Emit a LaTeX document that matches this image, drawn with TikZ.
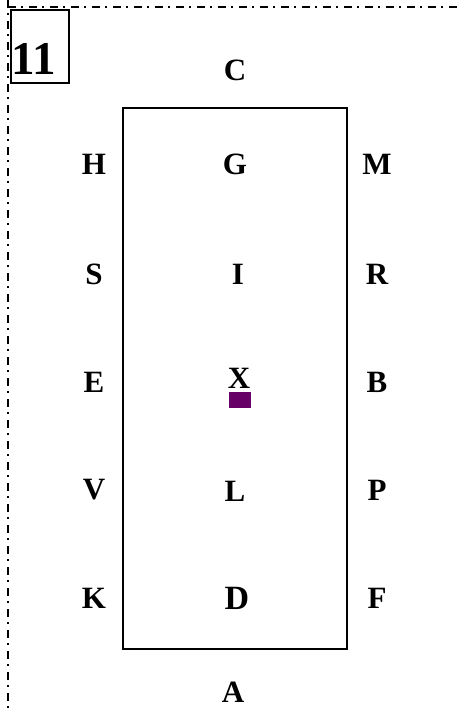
\documentclass[tikz,border=0pt]{standalone}
\usepackage{fontspec}
\setmainfont{Liberation Serif}
\definecolor{markpurple}{HTML}{660066}
\begin{document}
\begin{tikzpicture}[x=1pt,y=-1pt,
  lbl/.style={inner sep=0pt,font=\fontsize{31}{31}\selectfont\bfseries},
  dashdot/.style={line width=2.6pt,dash pattern=on 8pt off 5pt on 2pt off 6pt}]
\useasboundingbox (0,0) rectangle (462,708);
\draw[dashdot] (8,0) -- (8,708);
\draw[dashdot] (8,7) -- (462,7);
\node[draw,line width=2.4pt,minimum width=58pt,minimum height=73pt,inner sep=0pt,anchor=north west] (numbox) at (10,9) {};
\node[inner sep=0pt,font=\fontsize{47}{47}\selectfont\bfseries] (num) at (34,59) {11};
\node[draw,line width=2.4pt,minimum width=224pt,minimum height=541pt,inner sep=0pt,anchor=north west] (arena) at (122,107) {};
\node[lbl] (C) at (235,70) {C};
\node[lbl] (A) at (233,692) {A};
\node[lbl] (H) at (94,164) {H};
\node[lbl] (G) at (235,164) {G};
\node[lbl] (M) at (377,164) {M};
\node[lbl] (S) at (94,274) {S};
\node[lbl] (I) at (238,274) {I};
\node[lbl] (R) at (377,274) {R};
\node[lbl] (E) at (94,382) {E};
\node[lbl] (X) at (239,378) {X};
\node[lbl] (B) at (377,382) {B};
\node[lbl] (V) at (94,490) {V};
\node[lbl] (L) at (235,491) {L};
\node[lbl] (P) at (377,490) {P};
\node[lbl] (K) at (94,598) {K};
\node[lbl,font=\fontsize{34}{34}\selectfont\bfseries] (D) at (237,598) {D};
\node[lbl] (F) at (377,598) {F};
\node[fill=markpurple,minimum width=22pt,minimum height=16pt,inner sep=0pt,anchor=north west] (mark) at (229,392) {};
\end{tikzpicture}
\end{document}
